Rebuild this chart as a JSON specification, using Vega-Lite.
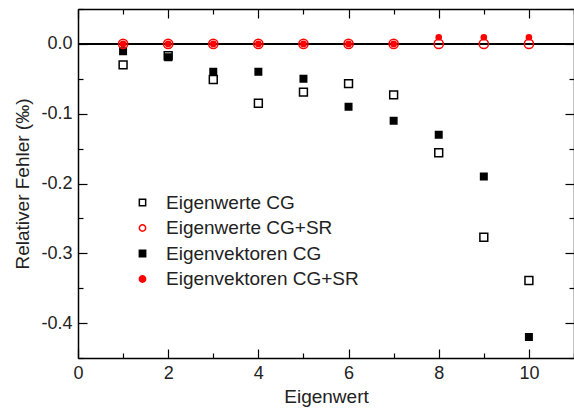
{
  "$schema": "https://vega.github.io/schema/vega-lite/v6.json",
  "width": 496,
  "height": 349,
  "autosize": "none",
  "padding": {"left": 78, "top": 9, "right": 0, "bottom": 54},
  "background": "white",
  "config": {
    "view": {"stroke": null},
    "font": "Liberation Sans",
    "axis": {"labelFont": "Liberation Sans", "titleFont": "Liberation Sans", "labelFontSize": 18, "titleFontSize": 19, "labelColor": "#222", "titleColor": "#222", "titleFontWeight": "normal", "domainColor": "black", "tickColor": "black", "domainWidth": 1.5, "tickWidth": 1.2, "grid": false},
    "legend": {"labelFont": "Liberation Sans", "labelFontSize": 19, "labelColor": "#222", "labelLimit": 0, "symbolSize": 40, "symbolStrokeWidth": 1.5}
  },
  "data": {
    "values": [
      {"x": 1, "y": -0.03, "series": "Eigenwerte CG"},
      {"x": 2, "y": -0.017, "series": "Eigenwerte CG"},
      {"x": 3, "y": -0.051, "series": "Eigenwerte CG"},
      {"x": 4, "y": -0.085, "series": "Eigenwerte CG"},
      {"x": 5, "y": -0.069, "series": "Eigenwerte CG"},
      {"x": 6, "y": -0.057, "series": "Eigenwerte CG"},
      {"x": 7, "y": -0.073, "series": "Eigenwerte CG"},
      {"x": 8, "y": -0.156, "series": "Eigenwerte CG"},
      {"x": 9, "y": -0.277, "series": "Eigenwerte CG"},
      {"x": 10, "y": -0.339, "series": "Eigenwerte CG"},
      {"x": 1, "y": 0, "series": "Eigenwerte CG+SR"},
      {"x": 2, "y": 0, "series": "Eigenwerte CG+SR"},
      {"x": 3, "y": 0, "series": "Eigenwerte CG+SR"},
      {"x": 4, "y": 0, "series": "Eigenwerte CG+SR"},
      {"x": 5, "y": 0, "series": "Eigenwerte CG+SR"},
      {"x": 6, "y": 0, "series": "Eigenwerte CG+SR"},
      {"x": 7, "y": 0, "series": "Eigenwerte CG+SR"},
      {"x": 8, "y": 0, "series": "Eigenwerte CG+SR"},
      {"x": 9, "y": 0, "series": "Eigenwerte CG+SR"},
      {"x": 10, "y": 0, "series": "Eigenwerte CG+SR"},
      {"x": 1, "y": -0.0105, "series": "Eigenvektoren CG"},
      {"x": 2, "y": -0.019, "series": "Eigenvektoren CG"},
      {"x": 3, "y": -0.04, "series": "Eigenvektoren CG"},
      {"x": 4, "y": -0.04, "series": "Eigenvektoren CG"},
      {"x": 5, "y": -0.05, "series": "Eigenvektoren CG"},
      {"x": 6, "y": -0.09, "series": "Eigenvektoren CG"},
      {"x": 7, "y": -0.11, "series": "Eigenvektoren CG"},
      {"x": 8, "y": -0.13, "series": "Eigenvektoren CG"},
      {"x": 9, "y": -0.19, "series": "Eigenvektoren CG"},
      {"x": 10, "y": -0.42, "series": "Eigenvektoren CG"},
      {"x": 1, "y": 0, "series": "Eigenvektoren CG+SR"},
      {"x": 2, "y": 0, "series": "Eigenvektoren CG+SR"},
      {"x": 3, "y": 0, "series": "Eigenvektoren CG+SR"},
      {"x": 4, "y": 0, "series": "Eigenvektoren CG+SR"},
      {"x": 5, "y": 0, "series": "Eigenvektoren CG+SR"},
      {"x": 6, "y": 0, "series": "Eigenvektoren CG+SR"},
      {"x": 7, "y": 0, "series": "Eigenvektoren CG+SR"},
      {"x": 8, "y": 0.0095, "series": "Eigenvektoren CG+SR"},
      {"x": 9, "y": 0.0095, "series": "Eigenvektoren CG+SR"},
      {"x": 10, "y": 0.0095, "series": "Eigenvektoren CG+SR"}
    ]
  },
  "resolve": {"axis": {"x": "independent", "y": "independent"}},
  "layer": [
    {
      "mark": {"type": "rule", "color": "black", "strokeWidth": 1.5},
      "encoding": {
        "x": {"datum": 0, "type": "quantitative", "scale": {"domain": [0, 11], "nice": false, "zero": false}, "axis": null},
        "x2": {"datum": 11},
        "y": {"datum": 0, "type": "quantitative", "scale": {"domain": [-0.45, 0.05], "nice": false, "zero": false}, "axis": null}
      }
    },
    {
      "mark": {"type": "point", "opacity": 0},
      "encoding": {
        "x": {"field": "x", "type": "quantitative", "scale": {"domain": [0, 11], "nice": false, "zero": false},
          "axis": {"orient": "bottom", "values": [0, 2, 4, 6, 8, 10], "ticks": false, "labelPadding": 6, "title": "Eigenwert", "titlePadding": 5, "labelFlush": false}},
        "y": {"field": "y", "type": "quantitative", "scale": {"domain": [-0.45, 0.05], "nice": false, "zero": false},
          "axis": {"orient": "left", "values": [-0.4, -0.3, -0.2, -0.1, 0], "ticks": false, "labelPadding": 6, "labelExpr": "replace(format(datum.value, '.1f'), '\u2212', '-')", "title": "Relativer Fehler (‰)", "titlePadding": 8, "labelFlush": false}}
      }
    },
    {
      "transform": [{"filter": "datum.series === 'Eigenwerte CG'"}],
      "mark": {"type": "point", "strokeWidth": 1.5, "opacity": 1, "size": 62},
      "encoding": {
        "x": {"field": "x", "type": "quantitative", "axis": null},
        "y": {"field": "y", "type": "quantitative", "axis": null},
        "shape": {"field": "series", "type": "nominal", "scale": {"domain": ["Eigenwerte CG", "Eigenwerte CG+SR", "Eigenvektoren CG", "Eigenvektoren CG+SR"], "range": ["square", "circle", "square", "circle"]},
          "legend": {"title": null, "orient": "none", "legendX": 55, "legendY": 184, "rowPadding": 5.5, "labelOffset": 14, "padding": 0}},
        "stroke": {"field": "series", "type": "nominal", "scale": {"domain": ["Eigenwerte CG", "Eigenwerte CG+SR", "Eigenvektoren CG", "Eigenvektoren CG+SR"], "range": ["black", "#ff0000", "black", "#ff0000"]},
          "legend": {"title": null, "orient": "none", "legendX": 55, "legendY": 184, "rowPadding": 5.5, "labelOffset": 14, "padding": 0}},
        "fill": {"field": "series", "type": "nominal", "scale": {"domain": ["Eigenwerte CG", "Eigenwerte CG+SR", "Eigenvektoren CG", "Eigenvektoren CG+SR"], "range": ["transparent", "transparent", "black", "#ff0000"]},
          "legend": {"title": null, "orient": "none", "legendX": 55, "legendY": 184, "rowPadding": 5.5, "labelOffset": 14, "padding": 0}}
      }
    },
    {
      "transform": [{"filter": "datum.series === 'Eigenvektoren CG'"}],
      "mark": {"type": "point", "strokeWidth": 1.5, "opacity": 1, "size": 42},
      "encoding": {
        "x": {"field": "x", "type": "quantitative", "axis": null},
        "y": {"field": "y", "type": "quantitative", "axis": null},
        "shape": {"field": "series", "type": "nominal"},
        "stroke": {"field": "series", "type": "nominal"},
        "fill": {"field": "series", "type": "nominal"}
      }
    },
    {
      "transform": [{"filter": "datum.series === 'Eigenwerte CG+SR'"}],
      "mark": {"type": "point", "strokeWidth": 1.5, "opacity": 1, "size": 85},
      "encoding": {
        "x": {"field": "x", "type": "quantitative", "axis": null},
        "y": {"field": "y", "type": "quantitative", "axis": null},
        "shape": {"field": "series", "type": "nominal"},
        "stroke": {"field": "series", "type": "nominal"},
        "fill": {"field": "series", "type": "nominal"}
      }
    },
    {
      "transform": [{"filter": "datum.series === 'Eigenvektoren CG+SR'"}],
      "mark": {"type": "point", "strokeWidth": 1.5, "opacity": 1, "size": 27},
      "encoding": {
        "x": {"field": "x", "type": "quantitative", "axis": null},
        "y": {"field": "y", "type": "quantitative", "axis": null},
        "shape": {"field": "series", "type": "nominal"},
        "stroke": {"field": "series", "type": "nominal"},
        "fill": {"field": "series", "type": "nominal"}
      }
    },
    {
      "mark": {"type": "point", "opacity": 0},
      "encoding": {
        "x": {"field": "x", "type": "quantitative",
          "axis": {"orient": "bottom", "values": [0, 1, 2, 3, 4, 5, 6, 7, 8, 9, 10, 11], "labels": false, "domain": false, "title": null,
            "tickSize": {"condition": {"test": "datum.value % 2 === 0", "value": -9}, "value": -5}}},
        "y": {"field": "y", "type": "quantitative",
          "axis": {"orient": "left", "values": [-0.45, -0.4, -0.35, -0.3, -0.25, -0.2, -0.15, -0.1, -0.05, 0, 0.05], "labels": false, "domain": false, "title": null,
            "tickSize": {"condition": {"test": "abs(round(datum.value * 20)) % 2 === 0", "value": -9}, "value": -5}}}
      }
    },
    {
      "mark": {"type": "point", "opacity": 0},
      "encoding": {
        "x": {"field": "x", "type": "quantitative",
          "axis": {"orient": "top", "values": [0, 1, 2, 3, 4, 5, 6, 7, 8, 9, 10, 11], "labels": false, "domain": true, "title": null,
            "tickSize": {"condition": {"test": "datum.value % 2 === 0", "value": -9}, "value": -5}}},
        "y": {"field": "y", "type": "quantitative",
          "axis": {"orient": "right", "values": [-0.45, -0.4, -0.35, -0.3, -0.25, -0.2, -0.15, -0.1, -0.05, 0, 0.05], "labels": false, "domain": true, "title": null,
            "tickSize": {"condition": {"test": "abs(round(datum.value * 20)) % 2 === 0", "value": -9}, "value": -5}}}
      }
    }
  ]
}
